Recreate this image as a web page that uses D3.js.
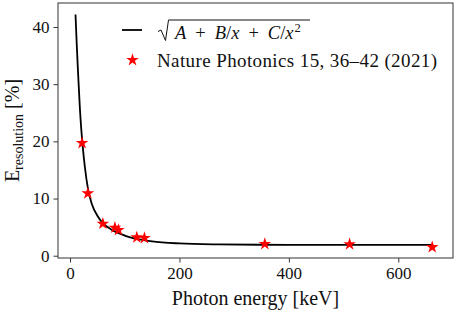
<!DOCTYPE html>
<html lang="en">
<head>
    <meta charset="UTF-8">
    <title>Energy resolution</title>
    <script src="https://d3js.org/d3.v7.min.js"></script>
    <style>
        body { margin: 0; background: #fff; }
        text { font-family: "Liberation Serif", "DejaVu Serif", serif; fill: #111; }
    </style>
</head>
<body>
<script>
    const width = 457;
    const height = 315;

    // measured points (Nature Photonics 15, 36-42 (2021))
    const energies = [22, 32.5, 60, 82, 88.5, 122, 136, 356, 511, 662];
    const resolutions = [19.7, 10.9, 5.6, 4.9, 4.5, 3.2, 3.1, 2.05, 2.0, 1.5];

    // fitted curve
    const fitEnergy = [10, 12, 14, 16, 18, 20.4, 23, 27, 33, 40, 50, 60, 75, 90, 110, 130, 150, 200, 270, 350, 450, 550, 662];
    const fitValue  = [42.2, 37.5, 33.3, 29.5, 25.8, 22.3, 19.3, 15.6, 11.6, 9.0, 7.0, 5.7, 4.6, 3.9, 3.2, 2.8, 2.5, 2.15, 1.98, 1.92, 1.9, 1.9, 1.9];

    const xTicks = [0, 200, 400, 600];
    const yTicks = [0, 10, 20, 30, 40];

    const margin = {left: 58, right: 4, top: 3, bottom: 57};

    const svg = d3.select("body").append("svg")
            .attr("width", width).attr("height", height);

    const x = d3.scaleLinear().domain([-22, 700])
            .range([margin.left, width - margin.right]);
    const y = d3.scaleLinear().domain([-0.4, 44.2])
            .range([height - margin.bottom, margin.top]);

    // axes
    const xAxis = svg.append("g")
            .attr("transform", `translate(0,${height - margin.bottom})`)
            .call(d3.axisBottom(x).tickValues(xTicks).tickSize(4.5).tickPadding(4));
    const yAxis = svg.append("g")
            .attr("transform", `translate(${margin.left},0)`)
            .call(d3.axisLeft(y).tickValues(yTicks).tickSize(4.5).tickPadding(4));

    [xAxis, yAxis].forEach(function(g) {
        g.select(".domain").remove();
        g.selectAll("line").style("stroke", "#333").style("stroke-width", 1);
        g.selectAll("text").style("font-family", '"Liberation Serif", serif')
                .style("font-size", "17px").style("fill", "#111");
    });

    // frame
    svg.append("rect")
            .attr("x", margin.left).attr("y", margin.top)
            .attr("width", width - margin.left - margin.right)
            .attr("height", height - margin.top - margin.bottom)
            .style("fill", "none")
            .style("stroke", "#444")
            .style("stroke-width", 1.1);

    // fit line
    const line = d3.line()
            .x((d, i) => x(fitEnergy[i]))
            .y(d => y(d))
            .curve(d3.curveMonotoneX);

    svg.append("path")
            .datum(fitValue)
            .attr("d", line)
            .style("fill", "none")
            .style("stroke", "#000")
            .style("stroke-width", 1.8);

    // stars
    const star = d3.symbol().type(d3.symbolStar).size(50);
    svg.selectAll("path.star")
            .data(energies)
            .enter()
            .append("path")
            .attr("class", "star")
            .attr("d", star)
            .attr("transform", (d, i) => `translate(${x(d)},${y(resolutions[i])})`)
            .style("fill", "#ff0000");

    // axis labels
    svg.append("text")
            .attr("x", (margin.left + width - margin.right) / 2)
            .attr("y", 305)
            .attr("text-anchor", "middle")
            .style("font-size", "20px")
            .text("Photon energy [keV]");

    const ylab = svg.append("text")
            .attr("transform", `translate(19,${(margin.top + height - margin.bottom) / 2}) rotate(-90)`)
            .attr("text-anchor", "middle")
            .style("font-size", "20px");
    ylab.append("tspan").text("E");
    ylab.append("tspan").attr("dy", 4).style("font-size", "14px").text("resolution");
    ylab.append("tspan").attr("dy", -4).text(" [%]");

    // legend
    const legend = svg.append("g").attr("transform", "translate(122,0)");

    legend.append("line")
            .attr("x1", 0).attr("x2", 20)
            .attr("y1", 30).attr("y2", 30)
            .style("stroke", "#000").style("stroke-width", 1.8);

    // radical sign
    legend.append("path")
            .attr("d", "M36,31.5 L39,30 L43.5,40.5 L46.5,20 L188,20")
            .style("fill", "none")
            .style("stroke", "#111")
            .style("stroke-width", 1);

    const formula = legend.append("text")
            .attr("x", 53).attr("y", 38.5)
            .style("font-size", "18.5px");
    formula.append("tspan").style("font-style", "italic").text("A");
    formula.append("tspan").attr("dx", 9).text("+");
    formula.append("tspan").attr("dx", 9).style("font-style", "italic").text("B");
    formula.append("tspan").text("/");
    formula.append("tspan").style("font-style", "italic").text("x");
    formula.append("tspan").attr("dx", 9).text("+");
    formula.append("tspan").attr("dx", 9).style("font-style", "italic").text("C");
    formula.append("tspan").text("/");
    formula.append("tspan").style("font-style", "italic").text("x");
    formula.append("tspan").attr("dy", -7).attr("dx", 1).style("font-size", "12.5px").text("2");

    legend.append("path")
            .attr("d", star)
            .attr("transform", "translate(10.5,60)")
            .style("fill", "#ff0000");

    legend.append("text")
            .attr("x", 35).attr("y", 66.5)
            .attr("textLength", 280)
            .attr("lengthAdjust", "spacing")
            .style("font-size", "19px")
            .text("Nature Photonics 15, 36\u201342 (2021)");
</script>
</body>
</html>
